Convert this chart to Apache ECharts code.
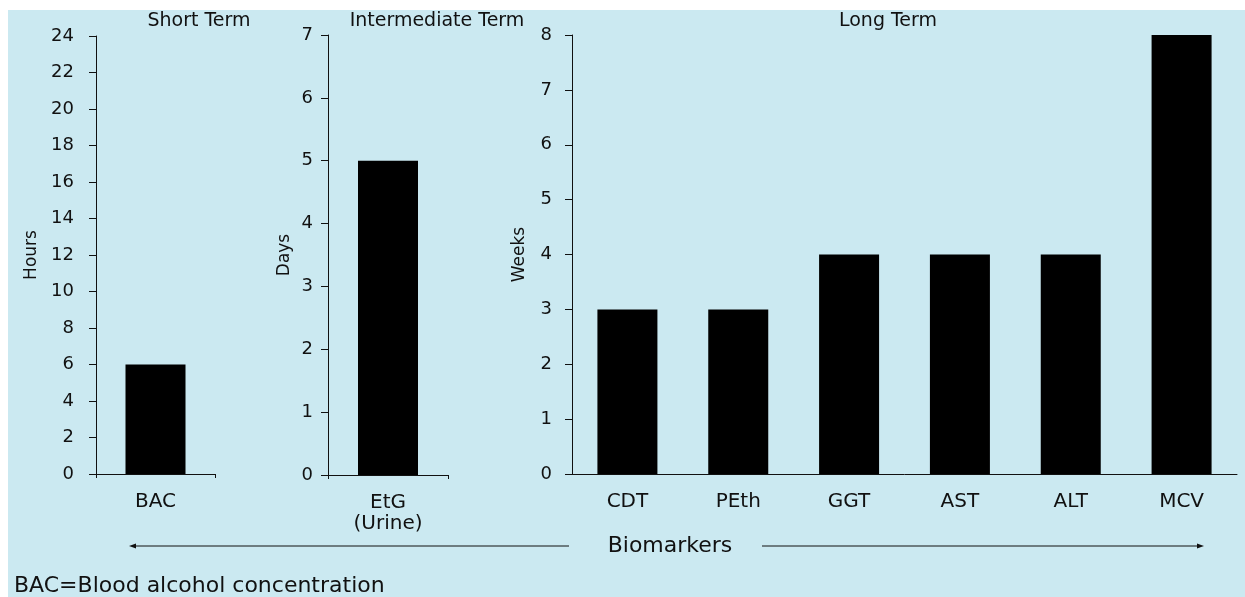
<!doctype html>
<html lang="en">
  <head>
    <meta charset="UTF-8" />
    <title>Alcohol biomarkers detection window</title>
    <script src="https://cdn.jsdelivr.net/npm/echarts@6/dist/echarts.min.js"></script>
    <style>
      body { margin: 0; background: #ffffff; }
      #chart { width: 1245px; height: 597px; }
    </style>
  </head>
  <body>
    <div id="chart"></div>
    <script>
      // detection windows per biomarker
      const shortCats = ['BAC'];
      const shortVals = [6]; // hours
      const interCats = ['EtG\n(Urine)'];
      const interVals = [5]; // days
      const longCats = ['CDT', 'PEth', 'GGT', 'AST', 'ALT', 'MCV'];
      const longVals = [3, 3, 4, 4, 4, 8]; // weeks

      const panelTitles = ['Short Term', 'Intermediate Term', 'Long Term'];
      const axisNames = ['Hours', 'Days', 'Weeks'];

      const FONT = 'DejaVu Sans';
      const INK = '#111111';
      const BG = '#cbe9f1';

      const yAxisBase = (i, max, interval, margin, gap) => ({
        type: 'value',
        gridIndex: i,
        min: 0,
        max: max,
        interval: interval,
        name: axisNames[i],
        nameLocation: 'middle',
        nameGap: gap,
        nameTextStyle: { fontFamily: FONT, fontSize: 17, color: INK },
        splitLine: { show: false },
        axisLine: { show: true, lineStyle: { color: INK, width: 1 } },
        axisTick: { show: true, length: 7, lineStyle: { color: INK } },
        axisLabel: { margin: margin, fontFamily: FONT, fontSize: 18, color: INK },
      });

      const xAxisBase = (i, cats, ticks) => ({
        type: 'category',
        gridIndex: i,
        data: cats,
        axisLine: { lineStyle: { color: INK, width: 1 } },
        axisTick: { show: ticks, length: 4, lineStyle: { color: INK } },
        axisLabel: { margin: 17, fontFamily: FONT, fontSize: 20, color: INK, lineHeight: 21 },
      });

      const barSeries = (i, vals) => ({
        type: 'bar',
        xAxisIndex: i,
        yAxisIndex: i,
        data: vals,
        barWidth: 60,
        itemStyle: { color: '#000000' },
        silent: true,
      });

      const titleText = (x, text) => ({
        type: 'text',
        x: x,
        y: 21,
        style: { text: text, fontFamily: FONT, fontSize: 19, fill: INK, align: 'center', verticalAlign: 'middle' },
      });

      const chart = echarts.init(document.getElementById('chart'));
      chart.setOption({
        animation: false,
        grid: [
          { left: 96, top: 36, width: 119, height: 438 },
          { left: 328, top: 35, width: 120, height: 440 },
          { left: 572, top: 35, width: 665, height: 439 },
        ],
        xAxis: [
          xAxisBase(0, shortCats, true),
          xAxisBase(1, interCats, true),
          xAxisBase(2, longCats, false),
        ],
        yAxis: [
          yAxisBase(0, 24, 2, 22, 56),
          yAxisBase(1, 7, 1, 15, 35),
          yAxisBase(2, 8, 1, 20, 44),
        ],
        series: [barSeries(0, shortVals), barSeries(1, interVals), barSeries(2, longVals)],
        graphic: [
          {
            type: 'rect',
            z: -10,
            silent: true,
            shape: { x: 8, y: 10, width: 1237, height: 587 },
            style: { fill: BG },
          },
          titleText(199, panelTitles[0]),
          titleText(437, panelTitles[1]),
          titleText(888, panelTitles[2]),
          {
            type: 'text',
            x: 670,
            y: 546,
            style: { text: 'Biomarkers', fontFamily: FONT, fontSize: 22, fill: INK, align: 'center', verticalAlign: 'middle' },
          },
          {
            type: 'line',
            shape: { x1: 134, y1: 546, x2: 569, y2: 546 },
            style: { stroke: INK, lineWidth: 1 },
          },
          {
            type: 'polygon',
            shape: { points: [[129, 546], [136, 543.5], [136, 548.5]] },
            style: { fill: INK },
          },
          {
            type: 'line',
            shape: { x1: 762, y1: 546, x2: 1199, y2: 546 },
            style: { stroke: INK, lineWidth: 1 },
          },
          {
            type: 'polygon',
            shape: { points: [[1204, 546], [1197, 543.5], [1197, 548.5]] },
            style: { fill: INK },
          },
          {
            type: 'text',
            x: 14,
            y: 586,
            style: { text: 'BAC=Blood alcohol concentration', fontFamily: FONT, fontSize: 22, fill: INK, align: 'left', verticalAlign: 'middle' },
          },
        ],
      });
    </script>
  </body>
</html>
